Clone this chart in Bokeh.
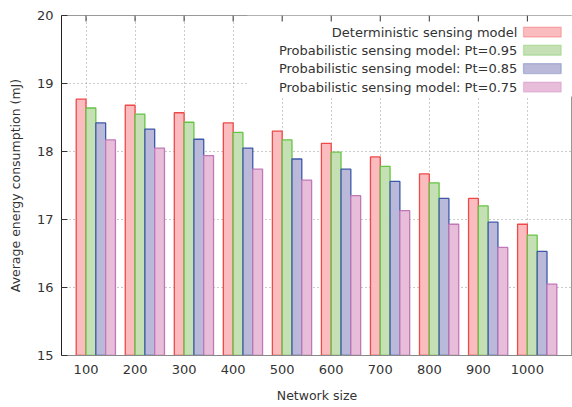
from bokeh.plotting import figure
from bokeh.models import (FixedTicker, Range1d, BoxAnnotation, Label, ColumnDataSource)
from bokeh.embed import file_html
from bokeh.resources import INLINE

network_sizes = ["100", "200", "300", "400", "500", "600", "700", "800", "900", "1000"]
deterministic = [18.77, 18.68, 18.57, 18.42, 18.30, 18.12, 17.92, 17.67, 17.31, 16.93]
prob_095 = [18.64, 18.55, 18.43, 18.28, 18.17, 17.99, 17.78, 17.54, 17.20, 16.77]
prob_085 = [18.42, 18.33, 18.18, 18.05, 17.89, 17.74, 17.56, 17.31, 16.96, 16.53]
prob_075 = [18.17, 18.05, 17.94, 17.74, 17.58, 17.35, 17.13, 16.93, 16.59, 16.05]

series_labels = ["Deterministic sensing model",
                 "Probabilistic sensing model: Pt=0.95",
                 "Probabilistic sensing model: Pt=0.85",
                 "Probabilistic sensing model: Pt=0.75"]
series_values = [deterministic, prob_095, prob_085, prob_075]
fills = ["#fabcbe", "#c4e0b4", "#bbb9d9", "#e8bdd9"]
lines = ["#ee4848", "#66c444", "#3c58a8", "#c078b8"]
offsets = [-0.1, 0.1, 0.3, 0.5]
bar_w = 0.2

FONT = "DejaVu Sans"

p = figure(width=572, height=407, output_backend="svg", toolbar_location=None,
           x_range=Range1d(0.5, 10.92), y_range=Range1d(15, 20),
           min_border_left=61, min_border_right=0, min_border_top=15, min_border_bottom=52)
p.background_fill_color = "white"
p.outline_line_color = "#999999"
p.outline_line_width = 1

positions = list(range(1, len(network_sizes) + 1))

for vals, f, l, off in zip(series_values, fills, lines, offsets):
    src = ColumnDataSource(dict(x=[i + off for i in positions], top=vals))
    p.vbar(x="x", top="top", bottom=15, width=bar_w, source=src,
           fill_color=f, line_color=l, line_width=1.3)

# axes
p.xaxis.ticker = FixedTicker(ticks=positions)
p.xaxis.major_label_overrides = {i: s for i, s in zip(positions, network_sizes)}
p.yaxis.ticker = FixedTicker(ticks=[15, 16, 17, 18, 19, 20])
p.xaxis.axis_label = "Network size"
p.yaxis.axis_label = "Average energy consumption (mJ)"
for ax in (p.xaxis[0], p.yaxis[0]):
    ax.axis_label_text_font = FONT
    ax.axis_label_text_font_size = "12.5px"
    ax.axis_label_text_font_style = "normal"
    ax.axis_label_text_color = "#333333"
    ax.major_label_text_font = FONT
    ax.major_label_text_font_size = "13px"
    ax.major_label_text_color = "#333333"
    ax.major_tick_in = 6
    ax.major_tick_out = 0
    ax.minor_tick_line_color = None
    ax.major_tick_line_color = "#333333"
p.xaxis.axis_line_color = "#888888"
p.xaxis.major_tick_line_color = None
p.xaxis.major_label_standoff = 9
p.xaxis.axis_label_standoff = 11
p.yaxis.axis_line_color = "#222222"
p.yaxis.major_label_standoff = 8
p.yaxis.axis_label_standoff = 11

# top mirror ticks (gnuplot style), drawn at each category position
tick_len = 6 / 68.0
p.segment(x0=positions, x1=positions, y0=[20] * len(positions),
          y1=[20 - tick_len] * len(positions), line_color="#333333", line_width=1)

p.xgrid.ticker = FixedTicker(ticks=positions)
p.ygrid.ticker = FixedTicker(ticks=[16, 17, 18, 19])
for g in (p.xgrid[0], p.ygrid[0]):
    g.grid_line_color = "#999999"
    g.grid_line_dash = "1 3"
    g.grid_line_width = 1

# legend (text left of swatch, gnuplot style)
p.add_layout(BoxAnnotation(left=4.29, right=10.92, bottom=18.81, top=20,
                           fill_color="white", fill_alpha=1.0, line_color=None,
                           level="underlay"))
row_y = [19.757, 19.489, 19.22, 18.948]
for lab, f, l, yy in zip(series_labels, fills, lines, row_y):
    p.add_layout(Label(x=9.796, y=yy, text=lab, text_align="right", text_baseline="middle",
                       text_font=FONT, text_font_size="13px", text_color="#333333"))
    p.add_layout(BoxAnnotation(left=9.92, right=10.69, bottom=yy - 0.0735, top=yy + 0.0735,
                               fill_color=f, fill_alpha=1.0, line_color=l, line_width=1.3,
                               level="overlay"))

open("out.html", "w").write(file_html(p, INLINE))
